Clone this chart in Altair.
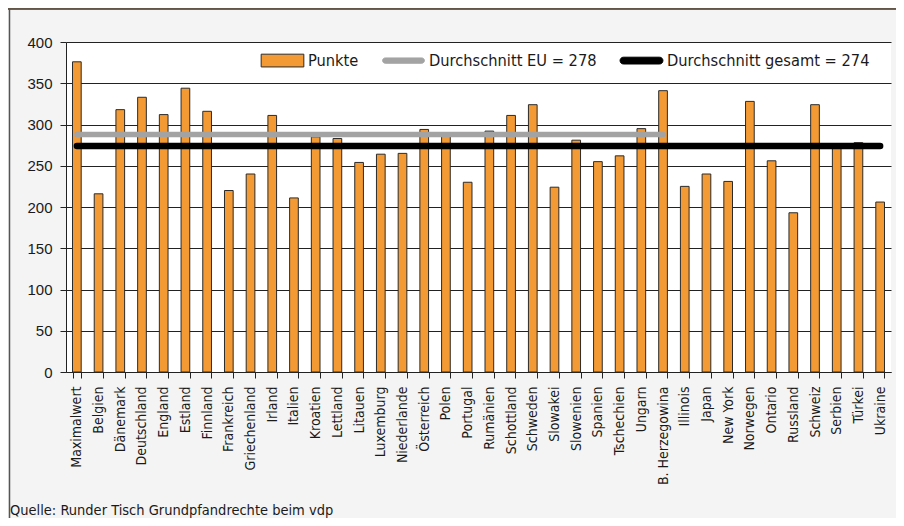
import altair as alt
import pandas as pd

categories = ["Maximalwert", "Belgien", "Dänemark", "Deutschland", "England", "Estland",
              "Finnland", "Frankreich", "Griechenland", "Irland", "Italien", "Kroatien",
              "Lettland", "Litauen", "Luxemburg", "Niederlande", "Österreich", "Polen",
              "Portugal", "Rumänien", "Schottland", "Schweden", "Slowakei", "Slowenien",
              "Spanien", "Tschechien", "Ungarn", "B. Herzegowina", "Illinois", "Japan",
              "New York", "Norwegen", "Ontario", "Russland", "Schweiz", "Serbien",
              "Türkei", "Ukraine"]
punkte = [376, 216, 318, 333, 312, 344, 316, 220, 240, 311, 211, 285, 283, 254,
          264, 265, 294, 287, 230, 292, 311, 324, 224, 281, 255, 262, 295, 341,
          225, 240, 231, 328, 256, 193, 324, 272, 278, 206]

series_names = ["Punkte", "Durchschnitt EU = 278", "Durchschnitt gesamt = 274"]
series_fill = ["#F39A34", "#A3A3A3", "#000000"]
series_stroke = ["#2b2b2b", "#A3A3A3", "#000000"]
series_shape = [
    "M-0.97,-0.29L0.97,-0.29L0.97,0.29L-0.97,0.29Z",
    "M-0.83,-0.12L0.83,-0.12A0.12,0.12 0 0 1 0.83,0.12L-0.83,0.12A0.12,0.12 0 0 1 -0.83,-0.12Z",
    "M-0.82,-0.155L0.82,-0.155A0.155,0.155 0 0 1 0.82,0.155L-0.82,0.155A0.155,0.155 0 0 1 -0.82,-0.155Z",
]

# average lines: value as drawn, first and last category spanned
avg_eu = {"series": series_names[1], "value": 288, "start": "Maximalwert", "end": "B. Herzegowina"}
avg_all = {"series": series_names[2], "value": 274, "start": "Maximalwert", "end": "Ukraine"}

y_ticks = [0, 50, 100, 150, 200, 250, 300, 350, 400]
footer = "Quelle: Runder Tisch Grundpfandrechte beim vdp"

bars_df = pd.DataFrame({"cat": categories, "punkte": punkte})
eu_df = pd.DataFrame([avg_eu])
all_df = pd.DataFrame([avg_all])
leg_df = pd.DataFrame({"series": series_names})

cond_font = "DejaVu Sans Condensed, Liberation Sans Narrow, sans-serif"

legend = alt.Legend(
    title=None, orient="none", direction="horizontal", legendX=194, legendY=-4,
    labelFont=cond_font, labelFontSize=16.3, labelColor="#1a1a1a", labelOffset=3,
    labelLimit=0, columnPadding=21, symbolSize=1936, symbolStrokeWidth=1, symbolOpacity=1,
)

x_scale = alt.Scale(domain=categories, paddingInner=0.6, paddingOuter=0.3)

bars = alt.Chart(bars_df).mark_bar(color=series_fill[0], stroke="#2b2b2b", strokeWidth=1).encode(
    x=alt.X("cat:N", scale=x_scale, sort=None, title=None,
            axis=alt.Axis(labelAngle=-90, labelFont=cond_font, labelFontSize=14,
                          labelColor="#1a1a1a", tickBand="extent", tickSize=6,
                          tickColor="#222", domainColor="#222", labelPadding=8,
                          grid=False)),
    y=alt.Y("punkte:Q", scale=alt.Scale(domain=[0, 400], nice=False), title=None,
            axis=alt.Axis(values=y_ticks, labelFont="Liberation Sans, Arial, sans-serif",
                          labelFontSize=15, labelColor="#1a1a1a", tickSize=6,
                          tickColor="#222", domainColor="#222", labelPadding=8,
                          grid=True, gridColor="#222", gridOpacity=1, gridWidth=1)),
)

eu_rule = alt.Chart(eu_df).mark_rule(color=series_fill[1], strokeWidth=5.5, strokeCap="round").encode(
    x=alt.X("start:N", scale=x_scale, sort=None, bandPosition=0.5),
    x2=alt.X2("end:N", bandPosition=0.5),
    y=alt.Y("value:Q"),
)
all_rule = alt.Chart(all_df).mark_rule(color=series_fill[2], strokeWidth=6.5, strokeCap="round").encode(
    x=alt.X("start:N", scale=x_scale, sort=None, bandPosition=0.5),
    x2=alt.X2("end:N", bandPosition=0.5),
    y=alt.Y("value:Q"),
)

# legend carrier (points placed outside the clipped view)
leg = alt.Chart(leg_df).mark_point(filled=True, clip=True, opacity=1, size=1936).encode(
    x=alt.value(10), y=alt.value(-600),
    fill=alt.Fill("series:N", scale=alt.Scale(domain=series_names, range=series_fill), legend=legend),
    stroke=alt.Stroke("series:N", scale=alt.Scale(domain=series_names, range=series_stroke), legend=legend),
    shape=alt.Shape("series:N", scale=alt.Scale(domain=series_names, range=series_shape), legend=legend),
)

frame_df = pd.DataFrame({"t": [footer]})
header = alt.Chart(frame_df).mark_rect(color="#F8BF82", clip=False).encode(
    x=alt.value(-58), x2=alt.value(830), y=alt.value(-34), y2=alt.value(-33))
header_line = alt.Chart(frame_df).mark_rule(color="#333", strokeWidth=1.5, clip=False).encode(
    x=alt.value(-58), x2=alt.value(830), y=alt.value(-33))
left_line = alt.Chart(frame_df).mark_rule(color="#555", strokeWidth=1.5, clip=False).encode(
    x=alt.value(-56.5), y=alt.value(-33), y2=alt.value(476))
foot = alt.Chart(frame_df).mark_text(align="left", baseline="alphabetic", font=cond_font,
                                     fontSize=14.5, color="#1a1a1a", clip=False).encode(
    x=alt.value(-56), y=alt.value(473), text="t:N")

chart = alt.layer(bars, eu_rule, all_rule, leg, header, header_line, left_line, foot).properties(
    width=825, height=330,
    padding={"left": 58, "top": 34, "right": 5, "bottom": 146},
    autosize=alt.AutoSizeParams(type="none"),
    background="#F4F4F4",
).configure_view(fill="white", stroke=None)

chart.save("out.html", embed_options={"renderer": "svg", "actions": False})
